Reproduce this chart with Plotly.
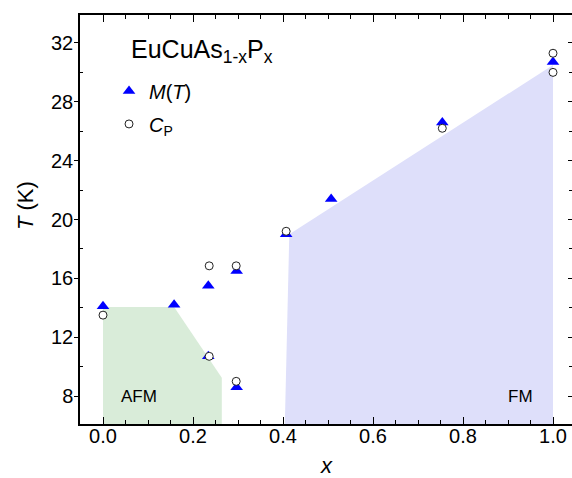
import plotly.graph_objects as go

# M(T) transition temperatures (blue triangles)
mt_x = [0.0, 0.158, 0.234, 0.234, 0.297, 0.297, 0.407, 0.507, 0.754, 1.0]
mt_y = [14.1, 14.2, 15.5, 10.7, 16.5, 8.6, 19.0, 21.4, 26.6, 30.7]

# Specific heat C_P transitions (open circles)
cp_x = [0.0, 0.236, 0.236, 0.296, 0.296, 0.407, 0.754, 1.0, 1.0]
cp_y = [13.5, 16.85, 10.7, 16.85, 9.0, 19.2, 26.2, 31.3, 30.0]

# Phase regions (polygon vertices)
afm_x = [0.0, 0.0, 0.158, 0.264, 0.264]
afm_y = [6.0, 14.05, 14.05, 9.25, 6.0]
fm_x = [0.404, 0.414, 1.0, 1.0]
fm_y = [6.0, 19.0, 30.5, 6.0]

x_ticks = [0.0, 0.2, 0.4, 0.6, 0.8, 1.0]
y_ticks = [8, 12, 16, 20, 24, 28, 32]
y_minor = [6, 10, 14, 18, 22, 26, 30]

FONT = "Liberation Sans, Arial, sans-serif"

fig = go.Figure()
fig.add_trace(go.Scatter(x=afm_x, y=afm_y, fill="toself", mode="lines",
                         line=dict(width=0), fillcolor="#d9ecd9",
                         showlegend=False, hoverinfo="skip"))
fig.add_trace(go.Scatter(x=fm_x, y=fm_y, fill="toself", mode="lines",
                         line=dict(width=0), fillcolor="#dedffa",
                         showlegend=False, hoverinfo="skip"))
fig.add_trace(go.Scatter(x=mt_x, y=mt_y, mode="markers", name="<i>M</i>(<i>T</i>)",
                         marker=dict(symbol="triangle-up", size=11, color="#0000ff",
                                     line=dict(width=0)),
                         legendgroup="a"))
fig.add_trace(go.Scatter(x=cp_x, y=cp_y, mode="markers", name="<i>C</i><sub>P</sub>",
                         marker=dict(symbol="circle", size=8, color="white",
                                     line=dict(width=1, color="#222222")),
                         legendgroup="b"))
# trace to activate the right-hand tick axis
fig.add_trace(go.Scatter(x=[None], y=[None], yaxis="y2", showlegend=False, hoverinfo="skip"))

fig.update_layout(
    width=572, height=478,
    margin=dict(l=80, r=0, t=15, b=54),
    paper_bgcolor="white", plot_bgcolor="white",
    font=dict(family=FONT, size=20, color="black"),
    showlegend=True,
    legend=dict(x=0.059, xanchor="left", y=0.862, yanchor="top",
                bgcolor="rgba(0,0,0,0)", font=dict(size=20),
                traceorder="grouped", tracegroupgap=4,
                itemwidth=30),
    xaxis=dict(range=[-0.0511, 1.0422], tickvals=x_ticks,
               ticktext=[f"{v:.1f}" for v in x_ticks],
               ticks="inside", ticklen=7, tickwidth=1, tickcolor="black",
               showline=True, linewidth=1.5, linecolor="black", mirror="ticks",
               showgrid=False, zeroline=False, ticklabelstandoff=-7,
               minor=dict(dtick=0.05, ticks="inside", ticklen=4, tickwidth=1,
                          tickcolor="black", showgrid=False),
               tickfont=dict(size=20)),
    yaxis=dict(range=[6.1, 33.9], tickvals=y_ticks,
               ticks="outside", ticklen=4, tickwidth=1, tickcolor="black",
               showline=True, linewidth=1.5, linecolor="black", mirror=False,
               showgrid=False, zeroline=False, ticklabelstandoff=-3,
               minor=dict(tickvals=y_minor, ticks="inside",
                          ticklen=3, tickwidth=1, tickcolor="black", showgrid=False),
               tickfont=dict(size=20)),
    yaxis2=dict(range=[6.1, 33.9], overlaying="y", side="right", tickvals=y_ticks,
                ticks="inside", ticklen=4, tickwidth=1, tickcolor="black",
                showticklabels=False, showline=False, linewidth=0,
                linecolor="rgba(0,0,0,0)", showgrid=False, zeroline=False,
                minor=dict(tickvals=y_minor, ticks="inside",
                           ticklen=3, tickwidth=1, tickcolor="black", showgrid=False)),
)

fig.add_annotation(text="EuCuAs<sub>1-x</sub>P<sub>x</sub>", xref="paper", yref="paper",
                   x=(129 - 80) / 492, y=(424.3 - 33) / 409.6, xanchor="left", yanchor="top",
                   showarrow=False, font=dict(size=25, family=FONT))
fig.add_annotation(text="AFM", x=0.08, y=8.0, showarrow=False,
                   font=dict(size=17, family=FONT), xanchor="center", yanchor="middle")
fig.add_annotation(text="FM", x=0.927, y=8.0, showarrow=False,
                   font=dict(size=17, family=FONT), xanchor="center", yanchor="middle")
fig.add_annotation(text="<i>x</i>", xref="paper", yref="paper", x=0.5,
                   y=(424.3 - 466) / 409.6,
                   xanchor="center", yanchor="middle", showarrow=False,
                   font=dict(size=22, family=FONT))
fig.add_annotation(text="<i>T</i> (K)", xref="paper", yref="paper",
                   x=(25 - 80) / 492, y=(424.3 - 206) / 409.6, textangle=-90,
                   xanchor="center", yanchor="middle", showarrow=False,
                   font=dict(size=22, family=FONT))

# remove the browser's default 8px body margin so the figure fills the window exactly
fig.write_html("out.html", config={"displayModeBar": False},
               post_script="document.body.style.margin='0';document.body.style.overflow='hidden';")
